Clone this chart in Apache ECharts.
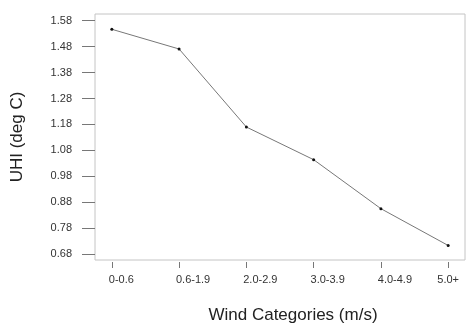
<!DOCTYPE html>
<html>
<head>
<meta charset="utf-8">
<script src="https://cdn.jsdelivr.net/npm/echarts@6/dist/echarts.min.js"></script>
<style>
  html, body { margin: 0; padding: 0; background: #fff; }
  #chart { width: 466px; height: 323px; }
</style>
</head>
<body>
<div id="chart"></div>
<script>
  // wind speed classes and mean UHI per class
  var windCategories = ['0-0.6', '0.6-1.9', '2.0-2.9', '3.0-3.9', '4.0-4.9', '5.0+'];
  var uhiValues = [1.547, 1.471, 1.170, 1.044, 0.855, 0.713];
  var yTicks = [0.68, 0.78, 0.88, 0.98, 1.08, 1.18, 1.28, 1.38, 1.48, 1.58];

  var chart = echarts.init(document.getElementById('chart'));
  var font = 'Liberation Sans, Arial, sans-serif';

  // x labels in the original start just left of their tick (last one is centred),
  // so pad each centred label on the left by its measured width
  var ctx = document.createElement('canvas').getContext('2d');
  ctx.font = '11px ' + font;
  var xRich = {};
  windCategories.forEach(function (c, i) {
    var w = ctx.measureText(c).width;
    var pad = i === windCategories.length - 1 ? 0 : Math.max(0, Math.round(w - 6));
    xRich['l' + i] = {
      fontFamily: font,
      fontSize: 11,
      color: '#333',
      padding: [0, 0, 0, pad]
    };
  });

  chart.setOption({
    animation: false,
    grid: {
      left: 95,
      top: 14,
      right: 1,
      bottom: 63,
      outerBoundsMode: 'none',
      show: true,
      borderColor: '#c4c4c4',
      borderWidth: 1
    },
    xAxis: {
      type: 'value',
      min: -0.25,
      max: 5.25,
      offset: 2,
      name: 'Wind Categories (m/s)',
      nameLocation: 'middle',
      nameGap: 45,
      nameTextStyle: {
        fontFamily: font,
        fontSize: 17,
        color: '#222',
        padding: [0, 0, 0, 26]
      },
      splitLine: { show: false },
      axisLine: { show: false, onZero: false },
      axisTick: {
        show: true,
        inside: false,
        length: 6,
        customValues: [0, 1, 2, 3, 4, 5],
        lineStyle: { color: '#777' }
      },
      axisLabel: {
        customValues: [0, 1, 2, 3, 4, 5],
        margin: 12,
        align: 'center',
        fontFamily: font,
        fontSize: 11,
        color: '#333',
        rich: xRich,
        formatter: function (v) {
          var i = Math.round(v);
          return '{l' + i + '|' + windCategories[i] + '}';
        }
      }
    },
    yAxis: {
      type: 'value',
      min: 0.657,
      max: 1.606,
      name: 'UHI (deg C)',
      nameLocation: 'middle',
      nameGap: 69,
      nameTextStyle: {
        fontFamily: font,
        fontSize: 17,
        color: '#222'
      },
      splitLine: { show: false },
      axisLine: { show: false, onZero: false },
      axisTick: {
        show: true,
        inside: false,
        length: 13,
        customValues: yTicks,
        lineStyle: { color: '#777' }
      },
      axisLabel: {
        customValues: yTicks,
        margin: 23,
        fontFamily: font,
        fontSize: 11,
        color: '#333',
        formatter: function (v) {
          return v.toFixed(2);
        }
      }
    },
    series: [{
      type: 'line',
      data: uhiValues.map(function (v, i) { return [i, v]; }),
      symbol: 'circle',
      symbolSize: 3,
      itemStyle: { color: '#111' },
      lineStyle: { color: '#777', width: 1 }
    }]
  });
</script>
</body>
</html>
